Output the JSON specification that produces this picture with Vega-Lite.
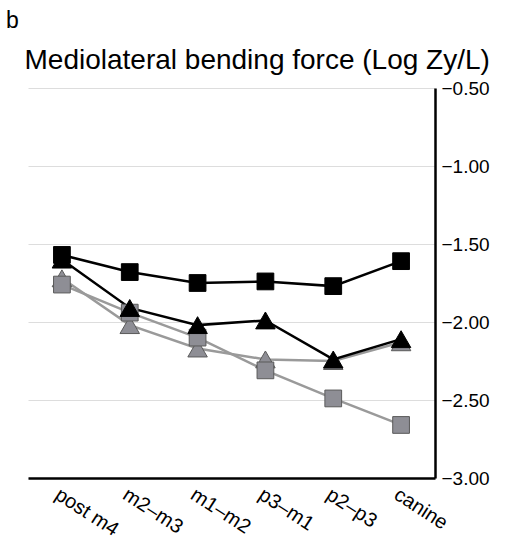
{
  "$schema": "https://vega.github.io/schema/vega-lite/v6.json",
  "width": 407,
  "height": 390,
  "autosize": "none",
  "padding": {"left": 28, "top": 88, "right": 73, "bottom": 69},
  "background": "white",
  "title": {
    "text": "b",
    "anchor": "start",
    "dx": -18,
    "offset": 13,
    "font": "Liberation Sans",
    "fontSize": 23,
    "fontWeight": "normal",
    "color": "black"
  },
  "config": {
    "view": {"stroke": null},
    "axis": {"labelFont": "Liberation Sans", "labelColor": "black"}
  },
  "data": {
    "values": [
      {"series": "Gray triangles", "tone": "gray", "shape": "triangle", "region": "post m4", "value": -1.72},
      {"series": "Gray triangles", "tone": "gray", "shape": "triangle", "region": "m2–m3", "value": -2.02},
      {"series": "Gray triangles", "tone": "gray", "shape": "triangle", "region": "m1–m2", "value": -2.17},
      {"series": "Gray triangles", "tone": "gray", "shape": "triangle", "region": "p3–m1", "value": -2.24},
      {"series": "Gray triangles", "tone": "gray", "shape": "triangle", "region": "p2–p3", "value": -2.25},
      {"series": "Gray triangles", "tone": "gray", "shape": "triangle", "region": "canine", "value": -2.13},
      {"series": "Gray squares", "tone": "gray", "shape": "square", "region": "post m4", "value": -1.76},
      {"series": "Gray squares", "tone": "gray", "shape": "square", "region": "m2–m3", "value": -1.94},
      {"series": "Gray squares", "tone": "gray", "shape": "square", "region": "m1–m2", "value": -2.10},
      {"series": "Gray squares", "tone": "gray", "shape": "square", "region": "p3–m1", "value": -2.31},
      {"series": "Gray squares", "tone": "gray", "shape": "square", "region": "p2–p3", "value": -2.49},
      {"series": "Gray squares", "tone": "gray", "shape": "square", "region": "canine", "value": -2.66},
      {"series": "Black triangles", "tone": "black", "shape": "triangle", "region": "post m4", "value": -1.60},
      {"series": "Black triangles", "tone": "black", "shape": "triangle", "region": "m2–m3", "value": -1.91},
      {"series": "Black triangles", "tone": "black", "shape": "triangle", "region": "m1–m2", "value": -2.02},
      {"series": "Black triangles", "tone": "black", "shape": "triangle", "region": "p3–m1", "value": -1.99},
      {"series": "Black triangles", "tone": "black", "shape": "triangle", "region": "p2–p3", "value": -2.24},
      {"series": "Black triangles", "tone": "black", "shape": "triangle", "region": "canine", "value": -2.11},
      {"series": "Black squares", "tone": "black", "shape": "square", "region": "post m4", "value": -1.57},
      {"series": "Black squares", "tone": "black", "shape": "square", "region": "m2–m3", "value": -1.68},
      {"series": "Black squares", "tone": "black", "shape": "square", "region": "m1–m2", "value": -1.75},
      {"series": "Black squares", "tone": "black", "shape": "square", "region": "p3–m1", "value": -1.74},
      {"series": "Black squares", "tone": "black", "shape": "square", "region": "p2–p3", "value": -1.77},
      {"series": "Black squares", "tone": "black", "shape": "square", "region": "canine", "value": -1.61}
    ]
  },
  "encoding": {
    "x": {
      "field": "region",
      "type": "nominal",
      "sort": ["post m4", "m2–m3", "m1–m2", "p3–m1", "p2–p3", "canine"],
      "scale": {"type": "point", "padding": 0.5},
      "axis": {
        "title": null,
        "labelAngle": 33,
        "labelFontSize": 20,
        "labelPadding": 6,
        "ticks": false,
        "domainColor": "black",
        "domainWidth": 2.5,
        "grid": false
      }
    },
    "y": {
      "field": "value",
      "type": "quantitative",
      "scale": {"domain": [-3, -0.5], "zero": false, "nice": false},
      "axis": {
        "orient": "right",
        "title": "Mediolateral bending force (Log Zy/L)",
        "titleAngle": 0,
        "titleX": -411,
        "titleY": -20,
        "titleAlign": "left",
        "titleBaseline": "alphabetic",
        "titleFont": "Liberation Sans",
        "titleFontSize": 28,
        "titleFontWeight": "normal",
        "titleColor": "black",
        "values": [-3, -2.5, -2, -1.5, -1, -0.5],
        "format": ".2f",
        "labelFontSize": 19,
        "labelPadding": 6,
        "ticks": false,
        "domainColor": "black",
        "domainWidth": 2.5,
        "grid": true,
        "gridColor": "#dddddd",
        "gridWidth": 1
      }
    }
  },
  "layer": [
    {
      "mark": {"type": "line", "strokeWidth": 2.5},
      "encoding": {
        "detail": {"field": "series"},
        "color": {
          "field": "tone",
          "type": "nominal",
          "scale": {"domain": ["gray", "black"], "range": ["#9a9a9a", "#000000"]},
          "legend": null
        }
      }
    },
    {
      "mark": {"type": "point", "filled": true, "opacity": 1, "strokeWidth": 1},
      "encoding": {
        "shape": {
          "field": "shape",
          "type": "nominal",
          "scale": {"domain": ["square", "triangle"], "range": ["square", "triangle-up"]},
          "legend": null
        },
        "size": {
          "field": "shape",
          "type": "nominal",
          "scale": {"domain": ["square", "triangle"], "range": [280, 380]},
          "legend": null
        },
        "fill": {
          "field": "tone",
          "type": "nominal",
          "scale": {"domain": ["gray", "black"], "range": ["#8e8e95", "#000000"]},
          "legend": null
        },
        "stroke": {
          "field": "tone",
          "type": "nominal",
          "scale": {"domain": ["gray", "black"], "range": ["#5a5a5a", "#000000"]},
          "legend": null
        }
      }
    }
  ]
}
